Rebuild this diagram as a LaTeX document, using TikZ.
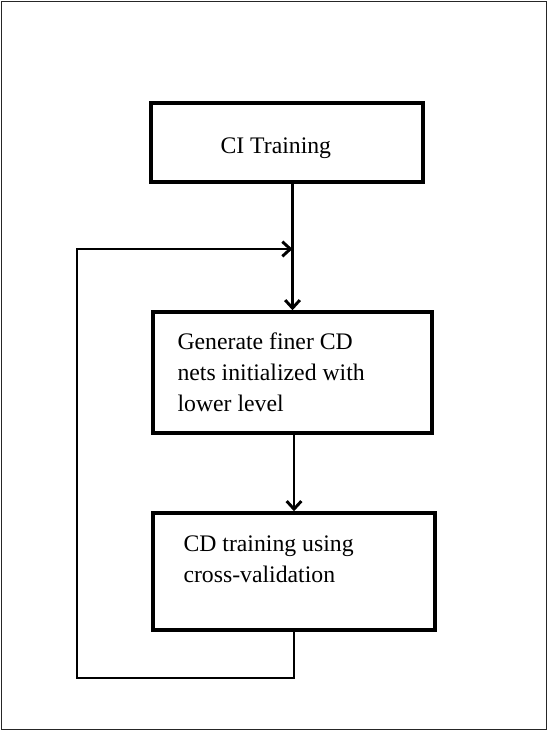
\documentclass[tikz,border=0pt]{standalone}
\usepackage{fontspec}
\setmainfont{Liberation Serif}
\usepackage{tikz}
\usetikzlibrary{
	arrows.meta,
	positioning
}
\tikzset{
	>={Straight Barb[length=6pt,width=11pt,line width=2.2pt]},
	stagebox/.style={draw, line width=2.6pt, inner sep=0pt},
	flowarrow/.style={->, line width=2.2pt},
	loopline/.style={line width=2.2pt},
	boxtext/.style={inner sep=0pt, align=left, font=\fontsize{17.8}{23.2}\selectfont}
}

\begin{document}
\begin{tikzpicture}[x=0.75pt, y=-0.75pt]
	\useasboundingbox (0,0) rectangle (548,731);
	\draw[line width=0.9pt, black!85] (1.5,1.5) rectangle (546.5,729.5);
	% the three stages
	\node[stagebox, minimum width=204pt, minimum height=59.25pt] (citrain) at (287,142.5) {};
	\node[stagebox, minimum width=209.25pt, minimum height=90.75pt] (finer) at (292.5,372.5) {};
	\node[stagebox, minimum width=211.5pt, minimum height=87.75pt] (cdtrain) at (294,571.5) {};
	\node[boxtext, anchor=base west] (citext) at ([shift={(71,52)}]citrain.north west) {CI Training};
	\node[boxtext, anchor=north west] (finertext) at ([shift={(26,22)}]finer.north west) {Generate finer CD\\nets initialized with\\lower level};
	\node[boxtext, anchor=north west] (cdtext) at ([shift={(32,24)}]cdtrain.north west) {CD training using\\cross-validation};
	% connectors
	\coordinate (merge) at (finer.north |- 0,249);
	\coordinate (corner) at (77,678);
	\draw[flowarrow] (citrain.south -| finer.north) -- (finer.north);
	\draw[flowarrow] (finer.south -| cdtrain.north) -- (cdtrain.north);
	\draw[loopline] (cdtrain.south) |- (corner) |- (merge);
	\draw[flowarrow] (corner |- merge) -- (merge);
\end{tikzpicture}
\end{document}
